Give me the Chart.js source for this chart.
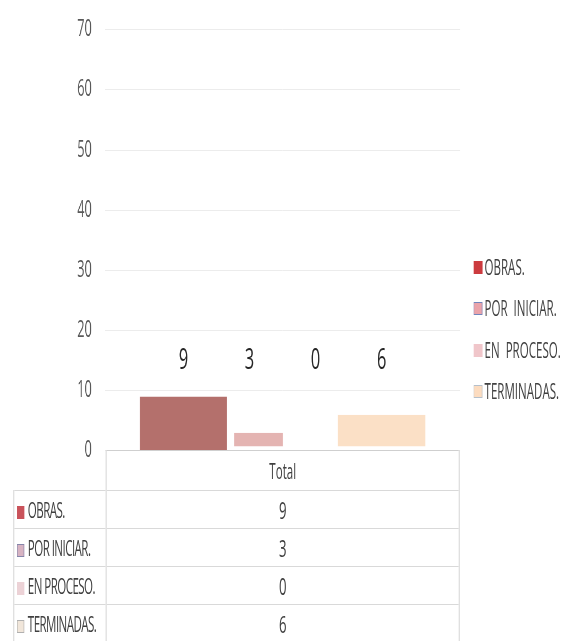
<!DOCTYPE html>
<html>
<head>
<meta charset="utf-8">
<script src="https://cdn.jsdelivr.net/npm/chart.js@4.4.1/dist/chart.umd.min.js"></script>
<style>
html, body { margin: 0; padding: 0; background: #fff; overflow: hidden; }
/* everything is laid out wide, then squeezed so the text looks condensed */
#page {
    position: absolute; left: 0; top: 0;
    width: 1020px; height: 641px;
    transform: scaleX(0.55); transform-origin: 0 0;
    font-family: "Open Sans", sans-serif; color: #404040;
}
#plot { position: absolute; left: 0; top: 0; width: 1020px; height: 480px; }
#legend { position: absolute; left: 861px; top: 247px; }
#legend div { height: 41.3px; line-height: 41.3px; font-size: 21px; white-space: pre; display: flex; align-items: center; }
#legend span.sw { display: inline-block; width: 16px; height: 13px; margin-right: 4px; box-sizing: border-box; }
#table {
    position: absolute; left: 23.6px; top: 450px; width: 812.7px;
    border-collapse: collapse; table-layout: fixed; font-size: 21px;
}
#table td { padding: 0; border-top: 1px solid #d9d9d9; border-bottom: 1px solid #d9d9d9; border-left: 2px solid #d9d9d9; border-right: 2px solid #d9d9d9; }
#table td.blank { border: none; }
#table td.hdr { border-top: 1px solid #cfcfcf; text-align: center; height: 39px; }
#table td.name { padding-left: 5px; height: 37px; white-space: nowrap; letter-spacing: -1px; }
#table td.val { text-align: center; font-size: 24px; }
#table span.sw { display: inline-block; width: 13px; height: 13px; margin-right: 7px; vertical-align: -1px; box-sizing: border-box; }
</style>
</head>
<body>
<div id="page">
    <div id="plot"><canvas id="chart"></canvas></div>
    <div id="legend"></div>
    <table id="table"></table>
</div>
<script>
const categories = ["OBRAS.", "POR  INICIAR.", "EN  PROCESO.", "TERMINADAS."];
const tableNames = ["OBRAS.", "POR INICIAR.", "EN PROCESO.", "TERMINADAS."];
const totals = [9, 3, 0, 6];
const columnLabels = ["Total"];
const yTicks = [0, 10, 20, 30, 40, 50, 60, 70];

// style only
const barColors = ["#b4706c", "#e4b4b2", "#ebc9cc", "#fbe0c6"];
const barWidths = [1.32, 1.015, 0.74, 1.33];
const barEdges = [0, { left: 33, bottom: 4, top: 0, right: 0 }, 0, { bottom: 4, top: 0, left: 0, right: 0 }];
const legendFill = ["#cc3b3f", "#eaa3aa", "#f0c6ca", "#fcdcc0"];
const legendEdge = ["#cc3b3f", "#6f86bd", "#f0c6ca", "#b4c0cc"];
const tableFill = ["#c9525a", "#d7b3c2", "#ecd2d6", "#f1e6da"];
const tableEdge = ["#c9525a", "#8585aa", "#ecd2d6", "#b0b0b0"];
const labelLevel = 15;
const areaTop = 29.5;
const areaBottom = 450.5;

const valueLabels = {
    id: "valueLabels",
    afterDatasetsDraw(chart) {
        const ctx = chart.ctx;
        const y = chart.scales.y.getPixelForValue(labelLevel);
        ctx.save();
        ctx.font = '30px "Open Sans"';
        ctx.fillStyle = "#262626";
        ctx.textAlign = "center";
        ctx.textBaseline = "middle";
        chart.data.datasets.forEach((ds, i) => {
            const bar = chart.getDatasetMeta(i).data[0];
            ctx.fillText(String(ds.data[0]), bar.x, y);
        });
        ctx.restore();
    },
};

const config = {
    type: "bar",
    data: {
        labels: columnLabels,
        datasets: categories.map((c, i) => ({
            label: c,
            data: [totals[i]],
            backgroundColor: barColors[i],
            borderColor: "rgba(0,0,0,0)",
            borderWidth: barEdges[i],
            borderSkipped: false,
            barPercentage: barWidths[i],
            categoryPercentage: 0.744,
        })),
    },
    options: {
        animation: false,
        responsive: true,
        maintainAspectRatio: false,
        layout: {
            padding: { top: 20, right: 183.6, bottom: 20, left: 0 },
        },
        scales: {
            x: { display: false },
            y: {
                min: 0,
                max: 70,
                afterBuildTicks(scale) {
                    scale.ticks = yTicks.map((v) => ({ value: v }));
                },
                afterFit(scale) {
                    scale.width = 190.9;
                },
                grid: { color: "#ececec", lineWidth: 1, drawTicks: false },
                border: { display: false },
                ticks: {
                    padding: 24,
                    color: "#595959",
                    font: { family: "Open Sans", size: 23 },
                },
            },
        },
        plugins: {
            legend: { display: false },
            tooltip: { enabled: false },
        },
    },
    plugins: [valueLabels],
};

function buildLegend() {
    const box = document.getElementById("legend");
    box.innerHTML = categories.map((c, i) =>
        '<div><span class="sw" style="background:' + legendFill[i] +
        ";border:1.5px solid " + legendEdge[i] + '"></span>' + c + "</div>"
    ).join("");
}

function buildTable() {
    let html = '<tr><td class="blank" style="width:167.3px"></td><td class="hdr">' + columnLabels[0] + "</td></tr>";
    tableNames.forEach((n, i) => {
        html += '<tr><td class="name"><span class="sw" style="background:' + tableFill[i] +
            ";border:1.5px solid " + tableEdge[i] + '"></span>' + n +
            '</td><td class="val">' + totals[i] + "</td></tr>";
    });
    document.getElementById("table").innerHTML = html;
}

// fit the plot box so the 0..70 range lands where the table expects it
function placePlot(chart) {
    const plot = document.getElementById("plot");
    const area = chart.chartArea;
    const extra = (areaBottom - areaTop) - (area.bottom - area.top);
    plot.style.height = (plot.offsetHeight + extra) + "px";
    chart.resize();
    plot.style.top = (areaTop - chart.chartArea.top) + "px";
}

buildLegend();
buildTable();
const chart = new Chart(document.getElementById("chart"), config);
placePlot(chart);
</script>
</body>
</html>
